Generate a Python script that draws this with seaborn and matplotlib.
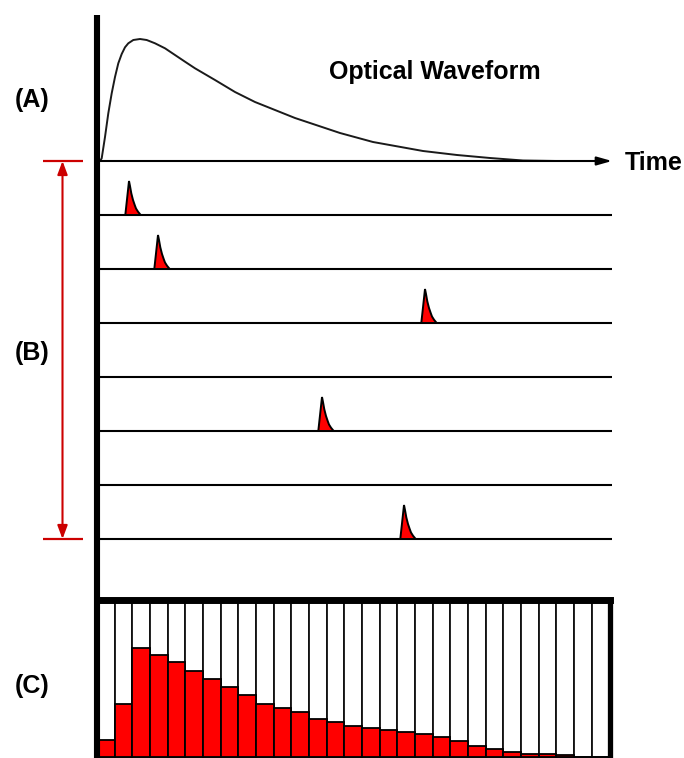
import numpy as np
import pandas as pd
import matplotlib
matplotlib.use("Agg")
import matplotlib.pyplot as plt
import seaborn as sns

# ---------------- data ----------------
# optical waveform: time offset (px from origin) and amplitude (px above time axis)
wave_t = [3, 4.7, 8, 11.3, 14.7, 18, 21.3, 24.7, 28, 31.3, 36.3, 43, 49.7, 58,
          68, 78, 88, 98, 118, 138, 158, 178, 198, 213, 243, 276, 326, 360, 393,
          426, 460, 500]
wave_h = [0, 2.7, 24, 47.7, 67.7, 84, 97.7, 107, 113.7, 117.7, 121, 122, 121,
          117.7, 112.7, 106, 99.3, 92.7, 81, 69, 59, 51, 43, 38, 28, 19, 10, 6,
          3, 0.5, 0, 0]

# single-photon pulses: trace index and arrival time (px from origin)
pulse_trace = [0, 1, 2, 4, 6]
pulse_time = [32, 61, 328, 225, 307]
# pulse template shape
pulse_dx = [-3.7, 0, 1.0, 2.3, 4.0, 5.7, 7.0, 9.0, 11.7]
pulse_h = [0, 34, 29, 21.7, 15, 10, 6.5, 3.3, 0]

# histogram (percent of full bin height)
hist_bins = list(range(29))
hist_counts = [10.8, 34.0, 70.5, 65.6, 61.3, 55.3, 50.5, 45.0, 39.8, 34.0, 31.8,
               28.8, 24.3, 22.4, 19.8, 18.5, 17.4, 16.3, 14.8, 12.7, 10.3, 6.9,
               5.2, 3.4, 1.9, 1.9, 1.5, 0, 0]
hist_full = [100] * len(hist_bins)

labels = ["(A)", "(B)", "(C)"]
title_text = "Optical Waveform"
axis_text = "Time"

# ---------------- layout ----------------
W, H = 684, 758
AXIS_X = 97
AXIS_TOP = 15
TIME_Y = 161
TIME_END = 612
N_TRACES = 7
TRACE_Y0 = 215
TRACE_GAP = 54
RED_DARK = "#cc0000"

sns.set_theme(style="white")
plt.rcParams["font.family"] = ["Liberation Sans", "DejaVu Sans"]
plt.rcParams["text.color"] = "black"

fig = plt.figure(figsize=(W / 100, H / 100), dpi=100)
ax = fig.add_axes([0, 0, 1, 1])
ax.set_zorder(2)
ax.patch.set_alpha(0)

# waveform
wdf = pd.DataFrame({"x": AXIS_X + np.array(wave_t), "y": TIME_Y - np.array(wave_h)})
sns.lineplot(data=wdf, x="x", y="y", ax=ax, color="#1a1a1a", lw=1.4,
             sort=False, estimator=None)

# time axis with arrow
ax.annotate("", xy=(TIME_END, TIME_Y), xytext=(AXIS_X, TIME_Y),
            arrowprops=dict(arrowstyle="-|>,head_length=0.6,head_width=0.17",
                            color="black", lw=1.5, mutation_scale=15,
                            shrinkA=0, shrinkB=0))

# trace baselines
trace_y = [TRACE_Y0 + k * TRACE_GAP for k in range(N_TRACES)]
ax.hlines(trace_y, AXIS_X, TIME_END, color="black", lw=1.5)

# pulses
for tr, t in zip(pulse_trace, pulse_time):
    base = TRACE_Y0 + tr * TRACE_GAP
    xs = AXIS_X + t + np.array(pulse_dx)
    ys = base - np.array(pulse_h)
    ax.fill(xs, ys, facecolor="#ff0000", edgecolor="black", lw=1.4, zorder=3)

# main vertical axis
ax.vlines(AXIS_X, AXIS_TOP, H, color="black", lw=4.4, zorder=4)

# red bracket for (B)
B_TOP, B_BOT = TIME_Y, trace_y[-1]
ax.hlines([B_TOP, B_BOT], 43, 83, color=RED_DARK, lw=1.6)
ax.annotate("", xy=(62.5, B_BOT), xytext=(62.5, B_TOP),
            arrowprops=dict(arrowstyle="<|-|>,head_length=0.4,head_width=0.15",
                            color=RED_DARK, lw=1.5, mutation_scale=20,
                            shrinkA=0, shrinkB=0))

# texts
fs = 18
ax.text(435, 72, title_text, fontsize=fs, fontweight="bold", ha="center",
        va="center", color="black")
ax.text(625, 163, axis_text, fontsize=fs, fontweight="bold", ha="left",
        va="center", color="black")
for lab, yy in zip(labels, [100, 353, 686]):
    ax.text(32, yy, lab, fontsize=fs, fontweight="bold", ha="center",
            va="center", color="black")

ax.set_xlim(0, W)
ax.set_ylim(H, 0)
ax.axis("off")

# ---------------- histogram ----------------
H_LEFT, H_RIGHT, H_TOP, H_BOT = AXIS_X, 609.5, 599.5, H
hax = fig.add_axes([H_LEFT / W, 1 - H_BOT / H, (H_RIGHT - H_LEFT) / W, (H_BOT - H_TOP) / H])
hax.set_zorder(1)
hdf = pd.DataFrame({"bin": hist_bins, "count": hist_counts, "full": hist_full})
sns.barplot(data=hdf, x="bin", y="full", color="white", edgecolor="#111111",
            linewidth=1.3, width=1.0, saturation=1, ax=hax)
sns.barplot(data=hdf, x="bin", y="count", color="#ff0000", edgecolor="black",
            linewidth=1.3, width=1.0, saturation=1, ax=hax)
px_per_unit = 155 / 100
hax.set_xlim(-0.5, len(hist_bins) - 0.5)
hax.set_ylim(-1 / px_per_unit, 100 + 2.5 / px_per_unit)
hax.set_xticks([])
hax.set_yticks([])
hax.set_xlabel("")
hax.set_ylabel("")
for side in ["left", "bottom"]:
    hax.spines[side].set_visible(False)
for side in ["top", "right"]:
    hax.spines[side].set_visible(True)
    hax.spines[side].set_color("black")
hax.spines["top"].set_linewidth(5)
hax.spines["right"].set_linewidth(3.8)

fig.savefig("out.png", dpi=100, facecolor="white")
